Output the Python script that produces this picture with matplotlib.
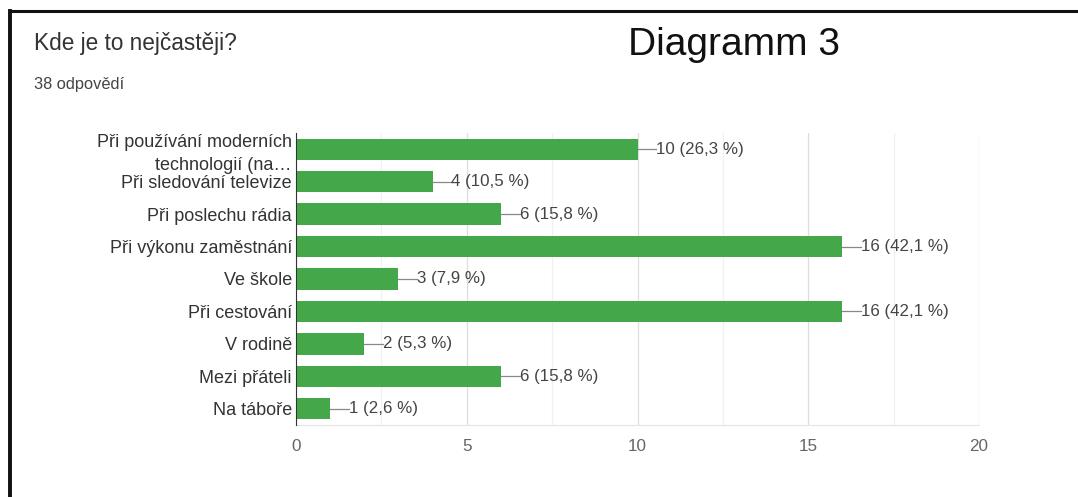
import matplotlib.pyplot as plt
from matplotlib.ticker import MultipleLocator
from matplotlib.transforms import Bbox, TransformedBbox

plt.rcParams['font.family'] = ['Liberation Sans', 'DejaVu Sans']

# odpovědi na otázku
kategorie = ['Při používání moderních\ntechnologií (na…', 'Při sledování televize',
             'Při poslechu rádia', 'Při výkonu zaměstnání', 'Ve škole',
             'Při cestování', 'V rodině', 'Mezi přáteli', 'Na táboře']
pocty = [10, 4, 6, 16, 3, 16, 2, 6, 1]
procenta = ['26,3', '10,5', '15,8', '42,1', '7,9', '42,1', '5,3', '15,8', '2,6']
x_ticks = [0, 5, 10, 15, 20]

fig = plt.figure(figsize=(10.78, 4.97), dpi=100)

# rámeček nahoře a vlevo
fig.add_artist(plt.Line2D([0.0093, 1.0], [0.978, 0.978], color='#111111', lw=2.2))
fig.add_artist(plt.Line2D([0.0093, 0.0093], [0.0, 0.978], color='#111111', lw=2.8))

fig.text(0.032, 0.913, 'Kde je to nejčastěji?', fontsize=16.3, color='#333333', va='center')
fig.text(0.032, 0.829, '38 odpovědí', fontsize=11.8, color='#444444', va='center')
fig.text(0.583, 0.91, 'Diagramm 3', fontsize=28, color='#111111', va='center')

ax = fig.add_axes([0.2746, 0.1449, 0.6336, 0.5875])
y = list(range(len(kategorie)))
ax.barh(y, pocty, height=0.66, color='#44a84b', zorder=3)

for yi, n, p in zip(y, pocty, procenta):
    ax.plot([n, n + 0.55], [yi, yi], color='#888888', lw=0.9, zorder=3)
    ax.text(n + 0.55, yi, f'{n} ({p} %)', va='center', ha='left',
            fontsize=12.2, color='#444444', zorder=4)

ax.set_xlim(0, 20)
ax.set_ylim(len(kategorie) - 0.5, -0.5)
ax.set_yticks(y)
ax.set_yticklabels(kategorie, fontsize=13, color='#333333', linespacing=1.45)
ax.set_xticks(x_ticks)
ax.xaxis.set_minor_locator(MultipleLocator(2.5))
ax.tick_params(axis='x', length=0, pad=10, labelsize=12.3, labelcolor='#666666')
ax.tick_params(axis='x', which='minor', length=0)
ax.tick_params(axis='y', length=0, pad=3)

ax.grid(axis='x', which='major', color='#dddddd', lw=0.9, zorder=0)
ax.grid(axis='x', which='minor', color='#f0f0f0', lw=0.9, zorder=0)
for s in ['top', 'right']:
    ax.spines[s].set_visible(False)
ax.spines['bottom'].set_color('#e4e4e4')
ax.spines['left'].set_color('#333333')
ax.spines['left'].set_zorder(5)

# horní řádek popisku je oříznutý na horní hraně grafu
fig.canvas.draw()
clip = TransformedBbox(Bbox([[0, 0], [1, 0.7335]]), fig.transFigure)
for tick in ax.yaxis.get_major_ticks():
    tick.label1.set_clip_box(clip)
    tick.label1.set_clip_on(True)

fig.savefig('out.png', dpi=100, facecolor='white')
